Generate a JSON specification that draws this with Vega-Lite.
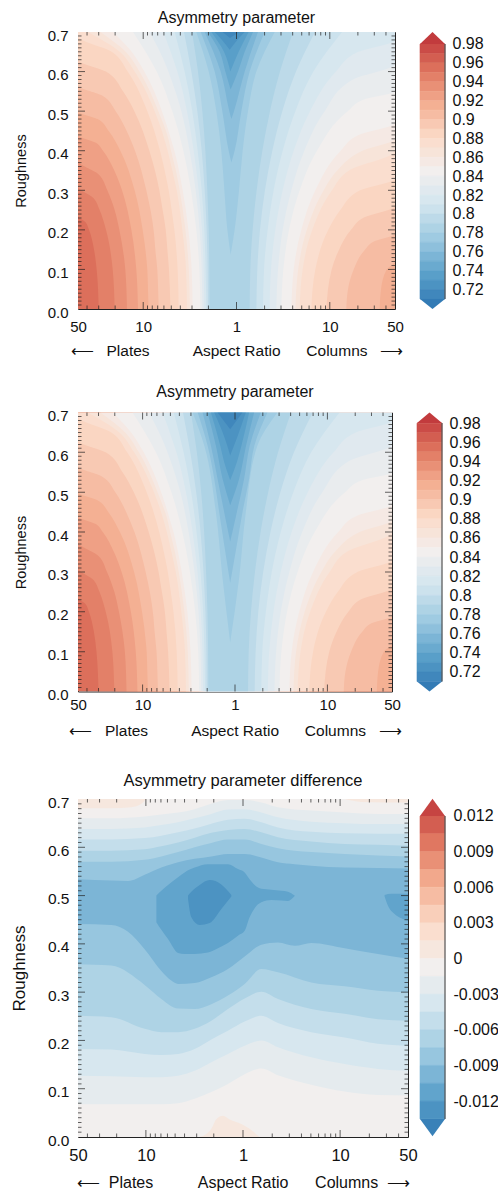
{
  "$schema": "https://vega.github.io/schema/vega-lite/v6.json",
  "padding": {"left": 9, "top": 9, "right": 0, "bottom": 0},
  "background": "white",
  "config": {
    "font": "Liberation Sans",
    "view": {"stroke": "#222", "strokeWidth": 1},
    "axis": {"grid": false, "ticks": false, "domain": false, "labelColor": "#111", "titleColor": "#111", "titleFontWeight": "normal", "labelFlush": false, "labelOverlap": false},
    "title": {"fontWeight": "normal", "color": "#111", "anchor": "middle", "frame": "group"},
    "tick": {"thickness": 1}
  },
  "datasets": {
    "xt": [
      {"t":-1.602,"k":0},{"t":-1.477,"k":0},{"t":-1.301,"k":0},{"t":-1,"k":1},{"t":-0.954,"k":0},{"t":-0.903,"k":0},{"t":-0.845,"k":0},{"t":-0.778,"k":0},{"t":-0.699,"k":0},{"t":-0.602,"k":0},{"t":-0.477,"k":0},{"t":-0.301,"k":0},{"t":0,"k":1},
      {"t":0.301,"k":0},{"t":0.477,"k":0},{"t":0.602,"k":0},{"t":0.699,"k":0},{"t":0.778,"k":0},{"t":0.845,"k":0},{"t":0.903,"k":0},{"t":0.954,"k":0},{"t":1,"k":1},{"t":1.301,"k":0},{"t":1.477,"k":0},{"t":1.602,"k":0}
    ],
    "yt": [
      {"t":0.01,"k":0},{"t":0.02,"k":0},{"t":0.03,"k":0},{"t":0.04,"k":0},{"t":0.05,"k":0},{"t":0.06,"k":0},{"t":0.07,"k":0},{"t":0.08,"k":0},{"t":0.09,"k":0},{"t":0.1,"k":1},
      {"t":0.11,"k":0},{"t":0.12,"k":0},{"t":0.13,"k":0},{"t":0.14,"k":0},{"t":0.15,"k":0},{"t":0.16,"k":0},{"t":0.17,"k":0},{"t":0.18,"k":0},{"t":0.19,"k":0},{"t":0.2,"k":1},
      {"t":0.21,"k":0},{"t":0.22,"k":0},{"t":0.23,"k":0},{"t":0.24,"k":0},{"t":0.25,"k":0},{"t":0.26,"k":0},{"t":0.27,"k":0},{"t":0.28,"k":0},{"t":0.29,"k":0},{"t":0.3,"k":1},
      {"t":0.31,"k":0},{"t":0.32,"k":0},{"t":0.33,"k":0},{"t":0.34,"k":0},{"t":0.35,"k":0},{"t":0.36,"k":0},{"t":0.37,"k":0},{"t":0.38,"k":0},{"t":0.39,"k":0},{"t":0.4,"k":1},
      {"t":0.41,"k":0},{"t":0.42,"k":0},{"t":0.43,"k":0},{"t":0.44,"k":0},{"t":0.45,"k":0},{"t":0.46,"k":0},{"t":0.47,"k":0},{"t":0.48,"k":0},{"t":0.49,"k":0},{"t":0.5,"k":1},
      {"t":0.51,"k":0},{"t":0.52,"k":0},{"t":0.53,"k":0},{"t":0.54,"k":0},{"t":0.55,"k":0},{"t":0.56,"k":0},{"t":0.57,"k":0},{"t":0.58,"k":0},{"t":0.59,"k":0},{"t":0.6,"k":1},
      {"t":0.61,"k":0},{"t":0.62,"k":0},{"t":0.63,"k":0},{"t":0.64,"k":0},{"t":0.65,"k":0},{"t":0.66,"k":0},{"t":0.67,"k":0},{"t":0.68,"k":0},{"t":0.69,"k":0}
    ],
    "base": [
      {"i":"c96","g":0.955,"r":0,"a":-1.699,"b":1.699},{"i":"c96","g":0.955,"r":0.7,"a":-1.699,"b":1.699},
      {"i":"c95","g":0.945,"r":0,"a":-1.477,"b":1.699},{"i":"c95","g":0.945,"r":0.1,"a":-1.499,"b":1.699},{"i":"c95","g":0.945,"r":0.15,"a":-1.527,"b":1.699},{"i":"c95","g":0.945,"r":0.2,"a":-1.581,"b":1.699},{"i":"c95","g":0.945,"r":0.22,"a":-1.62,"b":1.699},{"i":"c95","g":0.945,"r":0.235,"a":-1.699,"b":1.699},{"i":"c95","g":0.945,"r":0.7,"a":-1.699,"b":1.699},
      {"i":"c94","g":0.935,"r":0,"a":-1.306,"b":1.699},{"i":"c94","g":0.935,"r":0.1,"a":-1.327,"b":1.699},{"i":"c94","g":0.935,"r":0.2,"a":-1.399,"b":1.699},{"i":"c94","g":0.935,"r":0.25,"a":-1.467,"b":1.699},{"i":"c94","g":0.935,"r":0.28,"a":-1.531,"b":1.699},{"i":"c94","g":0.935,"r":0.31,"a":-1.699,"b":1.699},{"i":"c94","g":0.935,"r":0.7,"a":-1.699,"b":1.699},
      {"i":"c93","g":0.925,"r":0,"a":-1.174,"b":1.699},{"i":"c93","g":0.925,"r":0.1,"a":-1.192,"b":1.699},{"i":"c93","g":0.925,"r":0.2,"a":-1.256,"b":1.699},{"i":"c93","g":0.925,"r":0.25,"a":-1.306,"b":1.699},{"i":"c93","g":0.925,"r":0.3,"a":-1.385,"b":1.699},{"i":"c93","g":0.925,"r":0.34,"a":-1.477,"b":1.699},{"i":"c93","g":0.925,"r":0.375,"a":-1.699,"b":1.699},{"i":"c93","g":0.925,"r":0.7,"a":-1.699,"b":1.699},
      {"i":"c92","g":0.915,"r":0,"a":-1.056,"b":1.699},{"i":"c92","g":0.915,"r":0.1,"a":-1.074,"b":1.699},{"i":"c92","g":0.915,"r":0.2,"a":-1.127,"b":1.699},{"i":"c92","g":0.915,"r":0.3,"a":-1.227,"b":1.699},{"i":"c92","g":0.915,"r":0.35,"a":-1.31,"b":1.699},{"i":"c92","g":0.915,"r":0.4,"a":-1.431,"b":1.699},{"i":"c92","g":0.915,"r":0.42,"a":-1.506,"b":1.699},{"i":"c92","g":0.915,"r":0.44,"a":-1.699,"b":1.699},{"i":"c92","g":0.915,"r":0.7,"a":-1.699,"b":1.699},
      {"i":"c91","g":0.905,"r":0,"a":-0.942,"b":1.535},{"i":"c91","g":0.905,"r":0.05,"a":-0.949,"b":1.549},{"i":"c91","g":0.905,"r":0.1,"a":-0.956,"b":1.61},{"i":"c91","g":0.905,"r":0.12,"a":-0.963,"b":1.699},{"i":"c91","g":0.905,"r":0.2,"a":-1.006,"b":1.699},{"i":"c91","g":0.905,"r":0.3,"a":-1.092,"b":1.699},{"i":"c91","g":0.905,"r":0.4,"a":-1.245,"b":1.699},{"i":"c91","g":0.905,"r":0.45,"a":-1.37,"b":1.699},{"i":"c91","g":0.905,"r":0.48,"a":-1.488,"b":1.699},{"i":"c91","g":0.905,"r":0.5,"a":-1.699,"b":1.699},{"i":"c91","g":0.905,"r":0.7,"a":-1.699,"b":1.699},
      {"i":"c90","g":0.895,"r":0,"a":-0.834,"b":1.177},{"i":"c90","g":0.895,"r":0.05,"a":-0.84,"b":1.195},{"i":"c90","g":0.895,"r":0.1,"a":-0.849,"b":1.256},{"i":"c90","g":0.895,"r":0.15,"a":-0.87,"b":1.377},{"i":"c90","g":0.895,"r":0.17,"a":-0.877,"b":1.467},{"i":"c90","g":0.895,"r":0.19,"a":-0.884,"b":1.699},{"i":"c90","g":0.895,"r":0.3,"a":-0.967,"b":1.699},{"i":"c90","g":0.895,"r":0.4,"a":-1.088,"b":1.699},{"i":"c90","g":0.895,"r":0.45,"a":-1.177,"b":1.699},{"i":"c90","g":0.895,"r":0.5,"a":-1.295,"b":1.699},{"i":"c90","g":0.895,"r":0.54,"a":-1.445,"b":1.699},{"i":"c90","g":0.895,"r":0.565,"a":-1.699,"b":1.699},{"i":"c90","g":0.895,"r":0.7,"a":-1.699,"b":1.699},
      {"i":"c89","g":0.885,"r":0,"a":-0.709,"b":0.963},{"i":"c89","g":0.885,"r":0.1,"a":-0.724,"b":1.02},{"i":"c89","g":0.885,"r":0.15,"a":-0.741,"b":1.099},{"i":"c89","g":0.885,"r":0.2,"a":-0.759,"b":1.227},{"i":"c89","g":0.885,"r":0.23,"a":-0.777,"b":1.356},{"i":"c89","g":0.885,"r":0.26,"a":-0.799,"b":1.699},{"i":"c89","g":0.885,"r":0.3,"a":-0.827,"b":1.699},{"i":"c89","g":0.885,"r":0.4,"a":-0.934,"b":1.699},{"i":"c89","g":0.885,"r":0.5,"a":-1.095,"b":1.699},{"i":"c89","g":0.885,"r":0.55,"a":-1.217,"b":1.699},{"i":"c89","g":0.885,"r":0.6,"a":-1.399,"b":1.699},{"i":"c89","g":0.885,"r":0.63,"a":-1.699,"b":1.699},{"i":"c89","g":0.885,"r":0.7,"a":-1.699,"b":1.699},
      {"i":"c88","g":0.875,"r":0,"a":-0.62,"b":0.802},{"i":"c88","g":0.875,"r":0.1,"a":-0.631,"b":0.845},{"i":"c88","g":0.875,"r":0.2,"a":-0.666,"b":0.984},{"i":"c88","g":0.875,"r":0.25,"a":-0.695,"b":1.113},{"i":"c88","g":0.875,"r":0.3,"a":-0.727,"b":1.324},{"i":"c88","g":0.875,"r":0.33,"a":-0.752,"b":1.699},{"i":"c88","g":0.875,"r":0.4,"a":-0.82,"b":1.699},{"i":"c88","g":0.875,"r":0.5,"a":-0.956,"b":1.699},{"i":"c88","g":0.875,"r":0.6,"a":-1.167,"b":1.699},{"i":"c88","g":0.875,"r":0.65,"a":-1.338,"b":1.699},{"i":"c88","g":0.875,"r":0.69,"a":-1.699,"b":1.699},{"i":"c88","g":0.875,"r":0.7,"a":-1.699,"b":1.699},
      {"i":"c87","g":0.865,"r":0,"a":-0.531,"b":0.677},{"i":"c87","g":0.865,"r":0.1,"a":-0.541,"b":0.709},{"i":"c87","g":0.865,"r":0.2,"a":-0.581,"b":0.813},{"i":"c87","g":0.865,"r":0.3,"a":-0.641,"b":1.024},{"i":"c87","g":0.865,"r":0.35,"a":-0.688,"b":1.206},{"i":"c87","g":0.865,"r":0.4,"a":-0.738,"b":1.699},{"i":"c87","g":0.865,"r":0.5,"a":-0.877,"b":1.699},{"i":"c87","g":0.865,"r":0.6,"a":-1.092,"b":1.699},{"i":"c87","g":0.865,"r":0.65,"a":-1.252,"b":1.699},{"i":"c87","g":0.865,"r":0.7,"a":-1.592,"b":1.699},
      {"i":"c86","g":0.855,"r":0,"a":-0.5,"b":0.632},{"i":"c86","g":0.855,"r":0.1,"a":-0.511,"b":0.661},{"i":"c86","g":0.855,"r":0.2,"a":-0.548,"b":0.754},{"i":"c86","g":0.855,"r":0.3,"a":-0.609,"b":0.935},{"i":"c86","g":0.855,"r":0.35,"a":-0.65,"b":1.08},{"i":"c86","g":0.855,"r":0.4,"a":-0.702,"b":1.35},{"i":"c86","g":0.855,"r":0.43,"a":-0.73,"b":1.699},{"i":"c86","g":0.855,"r":0.5,"a":-0.838,"b":1.699},{"i":"c86","g":0.855,"r":0.6,"a":-1.04,"b":1.699},{"i":"c86","g":0.855,"r":0.65,"a":-1.188,"b":1.699},{"i":"c86","g":0.855,"r":0.7,"a":-1.458,"b":1.699},
      {"i":"c85","g":0.845,"r":0,"a":-0.47,"b":0.588},{"i":"c85","g":0.845,"r":0.1,"a":-0.481,"b":0.613},{"i":"c85","g":0.845,"r":0.2,"a":-0.516,"b":0.695},{"i":"c85","g":0.845,"r":0.3,"a":-0.577,"b":0.845},{"i":"c85","g":0.845,"r":0.4,"a":-0.666,"b":1.117},{"i":"c85","g":0.845,"r":0.44,"a":-0.716,"b":1.309},{"i":"c85","g":0.845,"r":0.47,"a":-0.756,"b":1.699},{"i":"c85","g":0.845,"r":0.5,"a":-0.799,"b":1.699},{"i":"c85","g":0.845,"r":0.6,"a":-0.988,"b":1.699},{"i":"c85","g":0.845,"r":0.65,"a":-1.124,"b":1.699},{"i":"c85","g":0.845,"r":0.7,"a":-1.324,"b":1.699},
      {"i":"c84","g":0.835,"r":0,"a":-0.388,"b":0.48},{"i":"c84","g":0.835,"r":0.1,"a":-0.398,"b":0.502},{"i":"c84","g":0.835,"r":0.2,"a":-0.431,"b":0.563},{"i":"c84","g":0.835,"r":0.3,"a":-0.488,"b":0.677},{"i":"c84","g":0.835,"r":0.4,"a":-0.57,"b":0.863},{"i":"c84","g":0.835,"r":0.5,"a":-0.688,"b":1.192},{"i":"c84","g":0.835,"r":0.53,"a":-0.734,"b":1.374},{"i":"c84","g":0.835,"r":0.55,"a":-0.763,"b":1.699},{"i":"c84","g":0.835,"r":0.6,"a":-0.856,"b":1.699},{"i":"c84","g":0.835,"r":0.7,"a":-1.109,"b":1.699},
      {"i":"c83","g":0.825,"r":0,"a":-0.366,"b":0.427},{"i":"c83","g":0.825,"r":0.1,"a":-0.373,"b":0.445},{"i":"c83","g":0.825,"r":0.2,"a":-0.395,"b":0.495},{"i":"c83","g":0.825,"r":0.3,"a":-0.438,"b":0.588},{"i":"c83","g":0.825,"r":0.4,"a":-0.502,"b":0.727},{"i":"c83","g":0.825,"r":0.5,"a":-0.591,"b":0.945},{"i":"c83","g":0.825,"r":0.58,"a":-0.699,"b":1.249},{"i":"c83","g":0.825,"r":0.62,"a":-0.763,"b":1.699},{"i":"c83","g":0.825,"r":0.7,"a":-0.931,"b":1.699},
      {"i":"c82","g":0.815,"r":0,"a":-0.345,"b":0.355},{"i":"c82","g":0.815,"r":0.1,"a":-0.352,"b":0.37},{"i":"c82","g":0.815,"r":0.2,"a":-0.37,"b":0.416},{"i":"c82","g":0.815,"r":0.3,"a":-0.406,"b":0.495},{"i":"c82","g":0.815,"r":0.4,"a":-0.459,"b":0.613},{"i":"c82","g":0.815,"r":0.5,"a":-0.531,"b":0.788},{"i":"c82","g":0.815,"r":0.6,"a":-0.634,"b":1.067},{"i":"c82","g":0.815,"r":0.65,"a":-0.706,"b":1.306},{"i":"c82","g":0.815,"r":0.68,"a":-0.752,"b":1.699},{"i":"c82","g":0.815,"r":0.7,"a":-0.788,"b":1.699},
      {"i":"c81","g":0.805,"r":0,"a":-0.323,"b":0.284},{"i":"c81","g":0.805,"r":0.1,"a":-0.331,"b":0.295},{"i":"c81","g":0.805,"r":0.2,"a":-0.345,"b":0.334},{"i":"c81","g":0.805,"r":0.3,"a":-0.373,"b":0.398},{"i":"c81","g":0.805,"r":0.4,"a":-0.416,"b":0.495},{"i":"c81","g":0.805,"r":0.5,"a":-0.474,"b":0.631},{"i":"c81","g":0.805,"r":0.6,"a":-0.556,"b":0.824},{"i":"c81","g":0.805,"r":0.7,"a":-0.663,"b":1.131},
      {"i":"c80","g":0.795,"r":0,"a":-0.306,"b":0.213},{"i":"c80","g":0.795,"r":0.1,"a":-0.309,"b":0.223},{"i":"c80","g":0.795,"r":0.2,"a":-0.32,"b":0.252},{"i":"c80","g":0.795,"r":0.3,"a":-0.341,"b":0.305},{"i":"c80","g":0.795,"r":0.4,"a":-0.373,"b":0.384},{"i":"c80","g":0.795,"r":0.5,"a":-0.42,"b":0.491},{"i":"c80","g":0.795,"r":0.6,"a":-0.484,"b":0.638},{"i":"c80","g":0.795,"r":0.7,"a":-0.563,"b":0.841},
      {"i":"c79","g":0.785,"r":0,"a":-0.288,"b":0.141},{"i":"c79","g":0.785,"r":0.1,"a":-0.291,"b":0.148},{"i":"c79","g":0.785,"r":0.2,"a":-0.298,"b":0.173},{"i":"c79","g":0.785,"r":0.3,"a":-0.313,"b":0.216},{"i":"c79","g":0.785,"r":0.4,"a":-0.334,"b":0.277},{"i":"c79","g":0.785,"r":0.5,"a":-0.366,"b":0.359},{"i":"c79","g":0.785,"r":0.6,"a":-0.413,"b":0.466},{"i":"c79","g":0.785,"r":0.7,"a":-0.477,"b":0.606}
    ],
    "v1": [
      {"i":"v78","g":0.775,"r":0.137,"a":-0.063,"b":-0.063},{"i":"v78","g":0.775,"r":0.2,"a":-0.098,"b":-0.02},{"i":"v78","g":0.775,"r":0.3,"a":-0.13,"b":0.027},{"i":"v78","g":0.775,"r":0.4,"a":-0.163,"b":0.066},{"i":"v78","g":0.775,"r":0.5,"a":-0.216,"b":0.123},{"i":"v78","g":0.775,"r":0.6,"a":-0.298,"b":0.213},{"i":"v78","g":0.775,"r":0.7,"a":-0.431,"b":0.409},
      {"i":"v77","g":0.765,"r":0.37,"a":-0.055,"b":-0.055},{"i":"v77","g":0.765,"r":0.4,"a":-0.084,"b":-0.02},{"i":"v77","g":0.765,"r":0.5,"a":-0.152,"b":0.052},{"i":"v77","g":0.765,"r":0.6,"a":-0.234,"b":0.141},{"i":"v77","g":0.765,"r":0.7,"a":-0.384,"b":0.302},
      {"i":"v76","g":0.755,"r":0.48,"a":-0.055,"b":-0.055},{"i":"v76","g":0.755,"r":0.5,"a":-0.077,"b":-0.027},{"i":"v76","g":0.755,"r":0.6,"a":-0.17,"b":0.088},{"i":"v76","g":0.755,"r":0.7,"a":-0.341,"b":0.23},
      {"i":"v75","g":0.745,"r":0.555,"a":-0.063,"b":-0.063},{"i":"v75","g":0.745,"r":0.6,"a":-0.12,"b":0.016},{"i":"v75","g":0.745,"r":0.65,"a":-0.18,"b":0.088},{"i":"v75","g":0.745,"r":0.7,"a":-0.306,"b":0.177},
      {"i":"v74","g":0.735,"r":0.6,"a":-0.066,"b":-0.066},{"i":"v74","g":0.735,"r":0.65,"a":-0.134,"b":0.023},{"i":"v74","g":0.735,"r":0.7,"a":-0.27,"b":0.13},
      {"i":"v73","g":0.725,"r":0.655,"a":-0.073,"b":-0.073},{"i":"v73","g":0.725,"r":0.68,"a":-0.155,"b":0.009},{"i":"v73","g":0.725,"r":0.7,"a":-0.234,"b":0.088},
      {"i":"v72","g":0.715,"r":0.685,"a":-0.07,"b":-0.07},{"i":"v72","g":0.715,"r":0.7,"a":-0.15,"b":0.03}
    ],
    "v2": [
      {"i":"w78","g":0.775,"r":0.123,"a":-0.052,"b":-0.052},{"i":"w78","g":0.775,"r":0.285,"a":-0.135,"b":0.045},{"i":"w78","g":0.775,"r":0.45,"a":-0.207,"b":0.117},{"i":"w78","g":0.775,"r":0.617,"a":-0.333,"b":0.243},{"i":"w78","g":0.775,"r":0.7,"a":-0.458,"b":0.458},
      {"i":"w77","g":0.765,"r":0.272,"a":-0.052,"b":-0.052},{"i":"w77","g":0.765,"r":0.368,"a":-0.117,"b":0.02},{"i":"w77","g":0.765,"r":0.45,"a":-0.171,"b":0.081},{"i":"w77","g":0.765,"r":0.534,"a":-0.225,"b":0.153},{"i":"w77","g":0.765,"r":0.617,"a":-0.297,"b":0.21},{"i":"w77","g":0.765,"r":0.7,"a":-0.404,"b":0.351},
      {"i":"w76","g":0.755,"r":0.376,"a":-0.052,"b":-0.052},{"i":"w76","g":0.755,"r":0.45,"a":-0.117,"b":0.02},{"i":"w76","g":0.755,"r":0.534,"a":-0.189,"b":0.099},{"i":"w76","g":0.755,"r":0.617,"a":-0.261,"b":0.16},{"i":"w76","g":0.755,"r":0.7,"a":-0.351,"b":0.279},
      {"i":"w75","g":0.745,"r":0.467,"a":-0.052,"b":-0.052},{"i":"w75","g":0.745,"r":0.534,"a":-0.135,"b":0.045},{"i":"w75","g":0.745,"r":0.617,"a":-0.207,"b":0.12},{"i":"w75","g":0.745,"r":0.7,"a":-0.297,"b":0.207},
      {"i":"w74","g":0.735,"r":0.53,"a":-0.052,"b":-0.052},{"i":"w74","g":0.735,"r":0.575,"a":-0.117,"b":0.02},{"i":"w74","g":0.735,"r":0.617,"a":-0.16,"b":0.07},{"i":"w74","g":0.735,"r":0.7,"a":-0.261,"b":0.153},
      {"i":"w73","g":0.725,"r":0.592,"a":-0.052,"b":-0.052},{"i":"w73","g":0.725,"r":0.64,"a":-0.117,"b":0.027},{"i":"w73","g":0.725,"r":0.7,"a":-0.225,"b":0.117},
      {"i":"w72","g":0.715,"r":0.658,"a":-0.052,"b":-0.052},{"i":"w72","g":0.715,"r":0.7,"a":-0.189,"b":0.081}
    ],
    "p3": [
      {"i":"n0","g":-0.00075,"u":-1.699,"lo":0,"hi":0.7},{"i":"n0","g":-0.00075,"u":1.699,"lo":0,"hi":0.7},
      {"i":"n1","g":-0.00225,"u":-1.699,"lo":0.068,"hi":0.66},{"i":"n1","g":-0.00225,"u":-1.356,"lo":0.068,"hi":0.66},{"i":"n1","g":-0.00225,"u":-1.013,"lo":0.068,"hi":0.664},{"i":"n1","g":-0.00225,"u":-0.841,"lo":0.068,"hi":0.668},{"i":"n1","g":-0.00225,"u":-0.669,"lo":0.07,"hi":0.672},{"i":"n1","g":-0.00225,"u":-0.498,"lo":0.079,"hi":0.679},{"i":"n1","g":-0.00225,"u":-0.326,"lo":0.093,"hi":0.69},{"i":"n1","g":-0.00225,"u":-0.155,"lo":0.11,"hi":0.698},{"i":"n1","g":-0.00225,"u":0.017,"lo":0.13,"hi":0.698},{"i":"n1","g":-0.00225,"u":0.189,"lo":0.142,"hi":0.693},{"i":"n1","g":-0.00225,"u":0.36,"lo":0.128,"hi":0.683},{"i":"n1","g":-0.00225,"u":0.703,"lo":0.108,"hi":0.676},{"i":"n1","g":-0.00225,"u":1.047,"lo":0.094,"hi":0.672},{"i":"n1","g":-0.00225,"u":1.39,"lo":0.087,"hi":0.669},{"i":"n1","g":-0.00225,"u":1.699,"lo":0.086,"hi":0.669},
      {"i":"n2","g":-0.00375,"u":-1.699,"lo":0.127,"hi":0.638},{"i":"n2","g":-0.00375,"u":-1.356,"lo":0.126,"hi":0.638},{"i":"n2","g":-0.00375,"u":-1.013,"lo":0.124,"hi":0.641},{"i":"n2","g":-0.00375,"u":-0.841,"lo":0.124,"hi":0.646},{"i":"n2","g":-0.00375,"u":-0.669,"lo":0.127,"hi":0.652},{"i":"n2","g":-0.00375,"u":-0.498,"lo":0.137,"hi":0.66},{"i":"n2","g":-0.00375,"u":-0.326,"lo":0.155,"hi":0.669},{"i":"n2","g":-0.00375,"u":-0.155,"lo":0.172,"hi":0.678},{"i":"n2","g":-0.00375,"u":0.017,"lo":0.189,"hi":0.679},{"i":"n2","g":-0.00375,"u":0.189,"lo":0.2,"hi":0.672},{"i":"n2","g":-0.00375,"u":0.36,"lo":0.186,"hi":0.662},{"i":"n2","g":-0.00375,"u":0.703,"lo":0.165,"hi":0.653},{"i":"n2","g":-0.00375,"u":1.047,"lo":0.151,"hi":0.65},{"i":"n2","g":-0.00375,"u":1.39,"lo":0.141,"hi":0.648},{"i":"n2","g":-0.00375,"u":1.699,"lo":0.137,"hi":0.648},
      {"i":"n3","g":-0.00525,"u":-1.699,"lo":0.182,"hi":0.616},{"i":"n3","g":-0.00525,"u":-1.356,"lo":0.181,"hi":0.616},{"i":"n3","g":-0.00525,"u":-1.013,"lo":0.172,"hi":0.619},{"i":"n3","g":-0.00525,"u":-0.841,"lo":0.17,"hi":0.624},{"i":"n3","g":-0.00525,"u":-0.669,"lo":0.172,"hi":0.631},{"i":"n3","g":-0.00525,"u":-0.498,"lo":0.182,"hi":0.639},{"i":"n3","g":-0.00525,"u":-0.326,"lo":0.202,"hi":0.649},{"i":"n3","g":-0.00525,"u":-0.155,"lo":0.22,"hi":0.657},{"i":"n3","g":-0.00525,"u":0.017,"lo":0.239,"hi":0.659},{"i":"n3","g":-0.00525,"u":0.189,"lo":0.251,"hi":0.652},{"i":"n3","g":-0.00525,"u":0.36,"lo":0.236,"hi":0.641},{"i":"n3","g":-0.00525,"u":0.703,"lo":0.217,"hi":0.632},{"i":"n3","g":-0.00525,"u":1.047,"lo":0.206,"hi":0.629},{"i":"n3","g":-0.00525,"u":1.39,"lo":0.193,"hi":0.628},{"i":"n3","g":-0.00525,"u":1.699,"lo":0.189,"hi":0.628},
      {"i":"n4","g":-0.00675,"u":-1.699,"lo":0.251,"hi":0.593},{"i":"n4","g":-0.00675,"u":-1.356,"lo":0.248,"hi":0.593},{"i":"n4","g":-0.00675,"u":-1.013,"lo":0.224,"hi":0.596},{"i":"n4","g":-0.00675,"u":-0.841,"lo":0.217,"hi":0.602},{"i":"n4","g":-0.00675,"u":-0.669,"lo":0.217,"hi":0.61},{"i":"n4","g":-0.00675,"u":-0.498,"lo":0.224,"hi":0.62},{"i":"n4","g":-0.00675,"u":-0.326,"lo":0.241,"hi":0.63},{"i":"n4","g":-0.00675,"u":-0.155,"lo":0.265,"hi":0.636},{"i":"n4","g":-0.00675,"u":0.017,"lo":0.287,"hi":0.638},{"i":"n4","g":-0.00675,"u":0.189,"lo":0.301,"hi":0.631},{"i":"n4","g":-0.00675,"u":0.36,"lo":0.286,"hi":0.621},{"i":"n4","g":-0.00675,"u":0.703,"lo":0.265,"hi":0.612},{"i":"n4","g":-0.00675,"u":1.047,"lo":0.255,"hi":0.607},{"i":"n4","g":-0.00675,"u":1.39,"lo":0.244,"hi":0.605},{"i":"n4","g":-0.00675,"u":1.699,"lo":0.241,"hi":0.603},
      {"i":"n5","g":-0.00825,"u":-1.699,"lo":0.358,"hi":0.57},{"i":"n5","g":-0.00825,"u":-1.356,"lo":0.355,"hi":0.57},{"i":"n5","g":-0.00825,"u":-1.013,"lo":0.315,"hi":0.574},{"i":"n5","g":-0.00825,"u":-0.841,"lo":0.286,"hi":0.581},{"i":"n5","g":-0.00825,"u":-0.669,"lo":0.266,"hi":0.59},{"i":"n5","g":-0.00825,"u":-0.498,"lo":0.265,"hi":0.6},{"i":"n5","g":-0.00825,"u":-0.326,"lo":0.275,"hi":0.609},{"i":"n5","g":-0.00825,"u":-0.155,"lo":0.293,"hi":0.616},{"i":"n5","g":-0.00825,"u":0.017,"lo":0.317,"hi":0.616},{"i":"n5","g":-0.00825,"u":0.189,"lo":0.348,"hi":0.607},{"i":"n5","g":-0.00825,"u":0.36,"lo":0.341,"hi":0.598},{"i":"n5","g":-0.00825,"u":0.703,"lo":0.32,"hi":0.59},{"i":"n5","g":-0.00825,"u":1.047,"lo":0.312,"hi":0.586},{"i":"n5","g":-0.00825,"u":1.39,"lo":0.303,"hi":0.583},{"i":"n5","g":-0.00825,"u":1.699,"lo":0.3,"hi":0.581},
      {"i":"n6","g":-0.00975,"u":-1.699,"lo":0.441,"hi":0.534},{"i":"n6","g":-0.00975,"u":-1.356,"lo":0.439,"hi":0.531},{"i":"n6","g":-0.00975,"u":-1.184,"lo":0.425,"hi":0.53},{"i":"n6","g":-0.00975,"u":-1.013,"lo":0.389,"hi":0.543},{"i":"n6","g":-0.00975,"u":-0.841,"lo":0.344,"hi":0.558},{"i":"n6","g":-0.00975,"u":-0.738,"lo":0.324,"hi":0.565},{"i":"n6","g":-0.00975,"u":-0.669,"lo":0.317,"hi":0.569},{"i":"n6","g":-0.00975,"u":-0.498,"lo":0.319,"hi":0.576},{"i":"n6","g":-0.00975,"u":-0.326,"lo":0.331,"hi":0.581},{"i":"n6","g":-0.00975,"u":-0.155,"lo":0.348,"hi":0.586},{"i":"n6","g":-0.00975,"u":0.017,"lo":0.374,"hi":0.586},{"i":"n6","g":-0.00975,"u":0.189,"lo":0.398,"hi":0.579},{"i":"n6","g":-0.00975,"u":0.36,"lo":0.403,"hi":0.569},{"i":"n6","g":-0.00975,"u":0.532,"lo":0.396,"hi":0.565},{"i":"n6","g":-0.00975,"u":0.703,"lo":0.402,"hi":0.562},{"i":"n6","g":-0.00975,"u":1.047,"lo":0.391,"hi":0.558},{"i":"n6","g":-0.00975,"u":1.39,"lo":0.379,"hi":0.557},{"i":"n6","g":-0.00975,"u":1.699,"lo":0.369,"hi":0.556},
      {"i":"n7","g":-0.01125,"u":-0.892,"lo":0.445,"hi":0.5},{"i":"n7","g":-0.01125,"u":-0.841,"lo":0.429,"hi":0.51},{"i":"n7","g":-0.01125,"u":-0.772,"lo":0.41,"hi":0.522},{"i":"n7","g":-0.01125,"u":-0.669,"lo":0.381,"hi":0.538},{"i":"n7","g":-0.01125,"u":-0.601,"lo":0.379,"hi":0.548},{"i":"n7","g":-0.01125,"u":-0.498,"lo":0.379,"hi":0.558},{"i":"n7","g":-0.01125,"u":-0.361,"lo":0.382,"hi":0.565},{"i":"n7","g":-0.01125,"u":-0.258,"lo":0.391,"hi":0.565},{"i":"n7","g":-0.01125,"u":-0.155,"lo":0.402,"hi":0.565},{"i":"n7","g":-0.01125,"u":-0.052,"lo":0.417,"hi":0.555},{"i":"n7","g":-0.01125,"u":0.017,"lo":0.427,"hi":0.548},{"i":"n7","g":-0.01125,"u":0.068,"lo":0.455,"hi":0.534},{"i":"n7","g":-0.01125,"u":0.12,"lo":0.474,"hi":0.522},{"i":"n7","g":-0.01125,"u":0.189,"lo":0.486,"hi":0.514},{"i":"n7","g":-0.01125,"u":0.292,"lo":0.491,"hi":0.512},{"i":"n7","g":-0.01125,"u":0.395,"lo":0.49,"hi":0.51},{"i":"n7","g":-0.01125,"u":0.463,"lo":0.489,"hi":0.508},{"i":"n7","g":-0.01125,"u":0.532,"lo":0.499,"hi":0.5},
      {"i":"n8","g":-0.01125,"u":1.458,"lo":0.498,"hi":0.501},{"i":"n8","g":-0.01125,"u":1.493,"lo":0.479,"hi":0.503},{"i":"n8","g":-0.01125,"u":1.561,"lo":0.462,"hi":0.504},{"i":"n8","g":-0.01125,"u":1.63,"lo":0.453,"hi":0.504},{"i":"n8","g":-0.01125,"u":1.699,"lo":0.448,"hi":0.504},
      {"i":"n9","g":-0.01275,"u":-0.566,"lo":0.493,"hi":0.5},{"i":"n9","g":-0.01275,"u":-0.532,"lo":0.455,"hi":0.508},{"i":"n9","g":-0.01275,"u":-0.446,"lo":0.439,"hi":0.522},{"i":"n9","g":-0.01275,"u":-0.343,"lo":0.443,"hi":0.532},{"i":"n9","g":-0.01275,"u":-0.223,"lo":0.472,"hi":0.523},{"i":"n9","g":-0.01275,"u":-0.12,"lo":0.498,"hi":0.501},
      {"i":"q1","g":0.00075,"u":-0.446,"lo":0,"hi":0},{"i":"q1","g":0.00075,"u":-0.378,"lo":0,"hi":0.006},{"i":"q1","g":0.00075,"u":-0.326,"lo":0,"hi":0.017},{"i":"q1","g":0.00075,"u":-0.275,"lo":0,"hi":0.037},{"i":"q1","g":0.00075,"u":-0.206,"lo":0,"hi":0.044},{"i":"q1","g":0.00075,"u":-0.137,"lo":0,"hi":0.036},{"i":"q1","g":0.00075,"u":-0.017,"lo":0,"hi":0.027},{"i":"q1","g":0.00075,"u":0.068,"lo":0,"hi":0.017},{"i":"q1","g":0.00075,"u":0.171,"lo":0,"hi":0},
      {"i":"q2","g":0.00075,"u":-1.699,"lo":0.681,"hi":0.7},{"i":"q2","g":0.00075,"u":-1.356,"lo":0.681,"hi":0.7},{"i":"q2","g":0.00075,"u":-1.15,"lo":0.683,"hi":0.7},{"i":"q2","g":0.00075,"u":-1.047,"lo":0.69,"hi":0.7},{"i":"q2","g":0.00075,"u":-0.995,"lo":0.7,"hi":0.7},
      {"i":"q3","g":0.00075,"u":1.047,"lo":0.7,"hi":0.7},{"i":"q3","g":0.00075,"u":1.218,"lo":0.694,"hi":0.7},{"i":"q3","g":0.00075,"u":1.458,"lo":0.693,"hi":0.7},{"i":"q3","g":0.00075,"u":1.699,"lo":0.693,"hi":0.7}
    ],
    "cb1": [
      {"lo":0.97,"hi":0.98,"g":0.975},{"lo":0.96,"hi":0.97,"g":0.965},{"lo":0.95,"hi":0.96,"g":0.955},{"lo":0.94,"hi":0.95,"g":0.945},{"lo":0.93,"hi":0.94,"g":0.935},{"lo":0.92,"hi":0.93,"g":0.925},{"lo":0.91,"hi":0.92,"g":0.915},{"lo":0.9,"hi":0.91,"g":0.905},{"lo":0.89,"hi":0.9,"g":0.895},
      {"lo":0.88,"hi":0.89,"g":0.885},{"lo":0.87,"hi":0.88,"g":0.875},{"lo":0.86,"hi":0.87,"g":0.865},{"lo":0.85,"hi":0.86,"g":0.855},{"lo":0.84,"hi":0.85,"g":0.845},{"lo":0.83,"hi":0.84,"g":0.835},{"lo":0.82,"hi":0.83,"g":0.825},{"lo":0.81,"hi":0.82,"g":0.815},{"lo":0.8,"hi":0.81,"g":0.805},
      {"lo":0.79,"hi":0.8,"g":0.795},{"lo":0.78,"hi":0.79,"g":0.785},{"lo":0.77,"hi":0.78,"g":0.775},{"lo":0.76,"hi":0.77,"g":0.765},{"lo":0.75,"hi":0.76,"g":0.755},{"lo":0.74,"hi":0.75,"g":0.745},{"lo":0.73,"hi":0.74,"g":0.735},{"lo":0.72,"hi":0.73,"g":0.725},{"lo":0.71,"hi":0.72,"g":0.715}
    ],
    "tri1": [{"d":"up","e":0.98,"g":0.985},{"d":"dn","e":0.71,"g":0.705}],
    "cb3": [
      {"lo":0.0105,"hi":0.012,"g":0.01125},{"lo":0.009,"hi":0.0105,"g":0.00975},{"lo":0.0075,"hi":0.009,"g":0.00825},{"lo":0.006,"hi":0.0075,"g":0.00675},{"lo":0.0045,"hi":0.006,"g":0.00525},{"lo":0.003,"hi":0.0045,"g":0.00375},{"lo":0.0015,"hi":0.003,"g":0.00225},{"lo":0,"hi":0.0015,"g":0.00075},{"lo":-0.0015,"hi":0,"g":-0.00075},
      {"lo":-0.003,"hi":-0.0015,"g":-0.00225},{"lo":-0.0045,"hi":-0.003,"g":-0.00375},{"lo":-0.006,"hi":-0.0045,"g":-0.00525},{"lo":-0.0075,"hi":-0.006,"g":-0.00675},{"lo":-0.009,"hi":-0.0075,"g":-0.00825},{"lo":-0.0105,"hi":-0.009,"g":-0.00975},{"lo":-0.012,"hi":-0.0105,"g":-0.01125},{"lo":-0.0135,"hi":-0.012,"g":-0.01275}
    ],
    "tri3": [{"d":"up","e":0.012,"g":0.013},{"d":"dn","e":-0.0135,"g":-0.014}]
  },
  "resolve": {"scale": {"color": "independent", "stroke": "independent"}},
  "spacing": 32,
  "vconcat": [
    {
      "spacing": 23.5,
      "resolve": {"scale": {"color": "independent", "stroke": "independent"}},
      "vconcat": [
        {
          "spacing": 25,
          "bounds": "flush",
          "hconcat": [
            {
              "width": 317, "height": 277,
              "title": {"text": "Asymmetry parameter", "fontSize": 16, "offset": 2.5},
              "layer": [
                {
                  "data": {"name": "base"},
                  "mark": {"type": "area", "orient": "horizontal", "interpolate": "monotone", "clip": true},
                  "encoding": {
                    "y": {"field": "r", "type": "quantitative", "scale": {"domain": [0, 0.7], "nice": false, "zero": false},
                          "axis": {"values": [0, 0.1, 0.2, 0.3, 0.4, 0.5, 0.6, 0.7], "tickCount": 40, "format": ".1f", "labelOverlap": false, "labelOffset": 3, "labelFontSize": 15, "labelPadding": 10, "title": "Roughness", "titleFontSize": 14.5, "titleX": -50}},
                    "x": {"field": "a", "type": "quantitative", "stack": null, "scale": {"domain": [-1.699, 1.699], "nice": false, "zero": false},
                          "axis": {"values": [-1.699, -1, 0, 1, 1.699], "tickCount": 40, "labelOverlap": false, "labelExpr": "abs(datum.value) > 1.5 ? '50' : datum.value == 0 ? '1' : '10'", "labelFontSize": 15, "labelPadding": 10, "title": "⟵\u00a0\u00a0\u00a0Plates\u00a0\u00a0\u00a0\u00a0\u00a0\u00a0\u00a0\u00a0\u00a0\u00a0Aspect Ratio\u00a0\u00a0\u00a0\u00a0\u00a0\u00a0Columns\u00a0\u00a0\u00a0⟶", "titleFontSize": 15.5, "titleY": 34}},
                    "x2": {"field": "b"},
                    "color": {"field": "g", "type": "quantitative", "legend": null, "scale": {"type": "threshold", "domain": [0.71,0.72,0.73,0.74,0.75,0.76,0.77,0.78,0.79,0.8,0.81,0.82,0.83,0.84,0.85,0.86,0.87,0.88,0.89,0.9,0.91,0.92,0.93,0.94,0.95,0.96,0.97,0.98], "scheme": {"name": "redblue", "extent": [0.92, 0.08]}}},
                    "detail": {"field": "i"}
                  }
                },
                {
                  "data": {"name": "v1"},
                  "mark": {"type": "area", "orient": "horizontal", "interpolate": "monotone", "clip": true},
                  "encoding": {
                    "y": {"field": "r", "type": "quantitative"},
                    "x": {"field": "a", "type": "quantitative", "stack": null},
                    "x2": {"field": "b"},
                    "color": {"field": "g", "type": "quantitative", "legend": null, "scale": {"type": "threshold", "domain": [0.71,0.72,0.73,0.74,0.75,0.76,0.77,0.78,0.79,0.8,0.81,0.82,0.83,0.84,0.85,0.86,0.87,0.88,0.89,0.9,0.91,0.92,0.93,0.94,0.95,0.96,0.97,0.98], "scheme": {"name": "redblue", "extent": [0.92, 0.08]}}},
                    "detail": {"field": "i"}
                  }
                },
                {
                  "data": {"name": "xt"},
                  "mark": {"type": "tick", "orient": "vertical", "clip": true, "color": "#222"},
                  "encoding": {"x": {"field": "t", "type": "quantitative"}, "y": {"datum": 0}, "size": {"field": "k", "type": "quantitative", "scale": {"domain": [0, 1], "range": [7, 14]}, "legend": null}}
                },
                {
                  "data": {"name": "xt"},
                  "mark": {"type": "tick", "orient": "vertical", "clip": true, "color": "#222"},
                  "encoding": {"x": {"field": "t", "type": "quantitative"}, "y": {"datum": 0.7}, "size": {"field": "k", "type": "quantitative", "scale": {"domain": [0, 1], "range": [7, 14]}, "legend": null}}
                },
                {
                  "data": {"name": "yt"},
                  "mark": {"type": "tick", "orient": "horizontal", "clip": true, "color": "#222"},
                  "encoding": {"y": {"field": "t", "type": "quantitative"}, "x": {"datum": -1.699}, "size": {"field": "k", "type": "quantitative", "scale": {"domain": [0, 1], "range": [7, 14]}, "legend": null}}
                },
                {
                  "data": {"name": "yt"},
                  "mark": {"type": "tick", "orient": "horizontal", "clip": true, "color": "#222"},
                  "encoding": {"y": {"field": "t", "type": "quantitative"}, "x": {"datum": 1.699}, "size": {"field": "k", "type": "quantitative", "scale": {"domain": [0, 1], "range": [7, 14]}, "legend": null}}
                }
              ]
            },
            {
              "width": 25, "height": 277,
              "view": {"stroke": null},
              "layer": [
                {
                  "data": {"name": "cb1"},
                  "mark": {"type": "rect", "strokeWidth": 0.6},
                  "encoding": {
                    "x": {"datum": 0, "scale": {"domain": [0, 1], "nice": false, "zero": false}, "axis": null},
                    "x2": {"datum": 1},
                    "y": {"field": "lo", "type": "quantitative", "scale": {"domain": [0.6994, 0.9927], "nice": false, "zero": false},
                          "axis": {"orient": "right", "values": [0.72,0.74,0.76,0.78,0.8,0.82,0.84,0.86,0.88,0.9,0.92,0.94,0.96,0.98], "tickCount": 40, "labelOverlap": false, "format": "~g", "labelFontSize": 16, "labelPadding": 7, "title": null}},
                    "y2": {"field": "hi"},
                    "color": {"field": "g", "type": "quantitative", "legend": null, "scale": {"type": "threshold", "domain": [0.71,0.72,0.73,0.74,0.75,0.76,0.77,0.78,0.79,0.8,0.81,0.82,0.83,0.84,0.85,0.86,0.87,0.88,0.89,0.9,0.91,0.92,0.93,0.94,0.95,0.96,0.97,0.98], "scheme": {"name": "redblue", "extent": [0.92, 0.08]}}},
                    "stroke": {"field": "g", "type": "quantitative", "legend": null, "scale": {"type": "threshold", "domain": [0.71,0.72,0.73,0.74,0.75,0.76,0.77,0.78,0.79,0.8,0.81,0.82,0.83,0.84,0.85,0.86,0.87,0.88,0.89,0.9,0.91,0.92,0.93,0.94,0.95,0.96,0.97,0.98], "scheme": {"name": "redblue", "extent": [0.92, 0.08]}}}
                  }
                },
                {
                  "data": {"name": "tri1"},
                  "transform": [{"filter": "datum.d == 'up'"}],
                  "mark": {"type": "point", "shape": "M-1,0L1,0L0,-0.96Z", "size": 625, "filled": true, "opacity": 1, "strokeWidth": 0},
                  "encoding": {"x": {"datum": 0.5, "axis": null}, "y": {"field": "e", "type": "quantitative"}, "color": {"field": "g", "type": "quantitative", "legend": null, "scale": {"type": "threshold", "domain": [0.71,0.72,0.73,0.74,0.75,0.76,0.77,0.78,0.79,0.8,0.81,0.82,0.83,0.84,0.85,0.86,0.87,0.88,0.89,0.9,0.91,0.92,0.93,0.94,0.95,0.96,0.97,0.98], "scheme": {"name": "redblue", "extent": [0.92, 0.08]}}}}
                },
                {
                  "data": {"name": "tri1"},
                  "transform": [{"filter": "datum.d == 'dn'"}],
                  "mark": {"type": "point", "shape": "M-1,0L1,0L0,0.8Z", "size": 625, "filled": true, "opacity": 1, "strokeWidth": 0},
                  "encoding": {"x": {"datum": 0.5, "axis": null}, "y": {"field": "e", "type": "quantitative"}, "color": {"field": "g", "type": "quantitative", "legend": null, "scale": {"type": "threshold", "domain": [0.71,0.72,0.73,0.74,0.75,0.76,0.77,0.78,0.79,0.8,0.81,0.82,0.83,0.84,0.85,0.86,0.87,0.88,0.89,0.9,0.91,0.92,0.93,0.94,0.95,0.96,0.97,0.98], "scheme": {"name": "redblue", "extent": [0.92, 0.08]}}}}
                },
                {
                  "data": {"values": [{}]},
                  "mark": {"type": "rule", "color": "#555", "strokeWidth": 1.2},
                  "encoding": {"x": {"datum": 1, "axis": null}, "y": {"datum": 0.71}, "y2": {"datum": 0.98}}
                }
              ]
            }
          ]
        },
        {
          "spacing": 25,
          "bounds": "flush",
          "hconcat": [
            {
              "width": 314, "height": 279,
              "title": {"text": "Asymmetry parameter", "fontSize": 16, "offset": 9},
              "layer": [
                {
                  "data": {"name": "base"},
                  "mark": {"type": "area", "orient": "horizontal", "interpolate": "monotone", "clip": true},
                  "encoding": {
                    "y": {"field": "r", "type": "quantitative", "scale": {"domain": [0, 0.7], "nice": false, "zero": false},
                          "axis": {"values": [0, 0.1, 0.2, 0.3, 0.4, 0.5, 0.6, 0.7], "tickCount": 40, "format": ".1f", "labelOverlap": false, "labelOffset": 3, "labelFontSize": 15, "labelPadding": 10, "title": "Roughness", "titleFontSize": 14.5, "titleX": -50}},
                    "x": {"field": "a", "type": "quantitative", "stack": null, "scale": {"domain": [-1.699, 1.699], "nice": false, "zero": false},
                          "axis": {"values": [-1.699, -1, 0, 1, 1.699], "tickCount": 40, "labelOverlap": false, "labelExpr": "abs(datum.value) > 1.5 ? '50' : datum.value == 0 ? '1' : '10'", "labelFontSize": 15, "labelPadding": 6, "title": "⟵\u00a0\u00a0\u00a0Plates\u00a0\u00a0\u00a0\u00a0\u00a0\u00a0\u00a0\u00a0\u00a0\u00a0Aspect Ratio\u00a0\u00a0\u00a0\u00a0\u00a0\u00a0Columns\u00a0\u00a0\u00a0⟶", "titleFontSize": 15.5, "titleY": 32}},
                    "x2": {"field": "b"},
                    "color": {"field": "g", "type": "quantitative", "legend": null, "scale": {"type": "threshold", "domain": [0.71,0.72,0.73,0.74,0.75,0.76,0.77,0.78,0.79,0.8,0.81,0.82,0.83,0.84,0.85,0.86,0.87,0.88,0.89,0.9,0.91,0.92,0.93,0.94,0.95,0.96,0.97,0.98], "scheme": {"name": "redblue", "extent": [0.92, 0.08]}}},
                    "detail": {"field": "i"}
                  }
                },
                {
                  "data": {"name": "v2"},
                  "mark": {"type": "area", "orient": "horizontal", "interpolate": "monotone", "clip": true},
                  "encoding": {
                    "y": {"field": "r", "type": "quantitative"},
                    "x": {"field": "a", "type": "quantitative", "stack": null},
                    "x2": {"field": "b"},
                    "color": {"field": "g", "type": "quantitative", "legend": null, "scale": {"type": "threshold", "domain": [0.71,0.72,0.73,0.74,0.75,0.76,0.77,0.78,0.79,0.8,0.81,0.82,0.83,0.84,0.85,0.86,0.87,0.88,0.89,0.9,0.91,0.92,0.93,0.94,0.95,0.96,0.97,0.98], "scheme": {"name": "redblue", "extent": [0.92, 0.08]}}},
                    "detail": {"field": "i"}
                  }
                },
                {
                  "data": {"name": "xt"},
                  "mark": {"type": "tick", "orient": "vertical", "clip": true, "color": "#222"},
                  "encoding": {"x": {"field": "t", "type": "quantitative"}, "y": {"datum": 0}, "size": {"field": "k", "type": "quantitative", "scale": {"domain": [0, 1], "range": [7, 14]}, "legend": null}}
                },
                {
                  "data": {"name": "xt"},
                  "mark": {"type": "tick", "orient": "vertical", "clip": true, "color": "#222"},
                  "encoding": {"x": {"field": "t", "type": "quantitative"}, "y": {"datum": 0.7}, "size": {"field": "k", "type": "quantitative", "scale": {"domain": [0, 1], "range": [7, 14]}, "legend": null}}
                },
                {
                  "data": {"name": "yt"},
                  "mark": {"type": "tick", "orient": "horizontal", "clip": true, "color": "#222"},
                  "encoding": {"y": {"field": "t", "type": "quantitative"}, "x": {"datum": -1.699}, "size": {"field": "k", "type": "quantitative", "scale": {"domain": [0, 1], "range": [7, 14]}, "legend": null}}
                },
                {
                  "data": {"name": "yt"},
                  "mark": {"type": "tick", "orient": "horizontal", "clip": true, "color": "#222"},
                  "encoding": {"y": {"field": "t", "type": "quantitative"}, "x": {"datum": 1.699}, "size": {"field": "k", "type": "quantitative", "scale": {"domain": [0, 1], "range": [7, 14]}, "legend": null}}
                }
              ]
            },
            {
              "width": 25, "height": 279,
              "view": {"stroke": null},
              "layer": [
                {
                  "data": {"name": "cb1"},
                  "mark": {"type": "rect", "strokeWidth": 0.6},
                  "encoding": {
                    "x": {"datum": 0, "scale": {"domain": [0, 1], "nice": false, "zero": false}, "axis": null},
                    "x2": {"datum": 1},
                    "y": {"field": "lo", "type": "quantitative", "scale": {"domain": [0.6996, 0.9911], "nice": false, "zero": false},
                          "axis": {"orient": "right", "values": [0.72,0.74,0.76,0.78,0.8,0.82,0.84,0.86,0.88,0.9,0.92,0.94,0.96,0.98], "tickCount": 40, "labelOverlap": false, "format": "~g", "labelFontSize": 16, "labelPadding": 7, "title": null}},
                    "y2": {"field": "hi"},
                    "color": {"field": "g", "type": "quantitative", "legend": null, "scale": {"type": "threshold", "domain": [0.71,0.72,0.73,0.74,0.75,0.76,0.77,0.78,0.79,0.8,0.81,0.82,0.83,0.84,0.85,0.86,0.87,0.88,0.89,0.9,0.91,0.92,0.93,0.94,0.95,0.96,0.97,0.98], "scheme": {"name": "redblue", "extent": [0.92, 0.08]}}},
                    "stroke": {"field": "g", "type": "quantitative", "legend": null, "scale": {"type": "threshold", "domain": [0.71,0.72,0.73,0.74,0.75,0.76,0.77,0.78,0.79,0.8,0.81,0.82,0.83,0.84,0.85,0.86,0.87,0.88,0.89,0.9,0.91,0.92,0.93,0.94,0.95,0.96,0.97,0.98], "scheme": {"name": "redblue", "extent": [0.92, 0.08]}}}
                  }
                },
                {
                  "data": {"name": "tri1"},
                  "transform": [{"filter": "datum.d == 'up'"}],
                  "mark": {"type": "point", "shape": "M-1,0L1,0L0,-0.85Z", "size": 625, "filled": true, "opacity": 1, "strokeWidth": 0},
                  "encoding": {"x": {"datum": 0.5, "axis": null}, "y": {"field": "e", "type": "quantitative"}, "color": {"field": "g", "type": "quantitative", "legend": null, "scale": {"type": "threshold", "domain": [0.71,0.72,0.73,0.74,0.75,0.76,0.77,0.78,0.79,0.8,0.81,0.82,0.83,0.84,0.85,0.86,0.87,0.88,0.89,0.9,0.91,0.92,0.93,0.94,0.95,0.96,0.97,0.98], "scheme": {"name": "redblue", "extent": [0.92, 0.08]}}}}
                },
                {
                  "data": {"name": "tri1"},
                  "transform": [{"filter": "datum.d == 'dn'"}],
                  "mark": {"type": "point", "shape": "M-1,0L1,0L0,0.8Z", "size": 625, "filled": true, "opacity": 1, "strokeWidth": 0},
                  "encoding": {"x": {"datum": 0.5, "axis": null}, "y": {"field": "e", "type": "quantitative"}, "color": {"field": "g", "type": "quantitative", "legend": null, "scale": {"type": "threshold", "domain": [0.71,0.72,0.73,0.74,0.75,0.76,0.77,0.78,0.79,0.8,0.81,0.82,0.83,0.84,0.85,0.86,0.87,0.88,0.89,0.9,0.91,0.92,0.93,0.94,0.95,0.96,0.97,0.98], "scheme": {"name": "redblue", "extent": [0.92, 0.08]}}}}
                },
                {
                  "data": {"values": [{}]},
                  "mark": {"type": "rule", "color": "#555", "strokeWidth": 1.2},
                  "encoding": {"x": {"datum": 1, "axis": null}, "y": {"datum": 0.71}, "y2": {"datum": 0.98}}
                }
              ]
            }
          ]
        }
      ]
    },
    {
      "spacing": 12,
      "bounds": "flush",
      "hconcat": [
        {
          "width": 330, "height": 338,
          "title": {"text": "Asymmetry parameter difference", "fontSize": 16.5, "offset": 6},
          "layer": [
            {
              "data": {"name": "p3"},
              "mark": {"type": "area", "orient": "vertical", "interpolate": "monotone", "clip": true},
              "encoding": {
                "x": {"field": "u", "type": "quantitative", "scale": {"domain": [-1.699, 1.699], "nice": false, "zero": false},
                      "axis": {"values": [-1.699, -1, 0, 1, 1.699], "tickCount": 40, "labelOverlap": false, "labelExpr": "abs(datum.value) > 1.5 ? '50' : datum.value == 0 ? '1' : '10'", "labelFontSize": 16.5, "labelPadding": 10, "title": "⟵\u00a0\u00a0Plates\u00a0\u00a0\u00a0\u00a0\u00a0\u00a0\u00a0\u00a0\u00a0\u00a0Aspect Ratio\u00a0\u00a0\u00a0\u00a0\u00a0\u00a0Columns\u00a0\u00a0⟶", "titleFontSize": 16, "titleY": 37}},
                "y": {"field": "lo", "type": "quantitative", "stack": null, "scale": {"domain": [0, 0.7], "nice": false, "zero": false},
                      "axis": {"values": [0, 0.1, 0.2, 0.3, 0.4, 0.5, 0.6, 0.7], "tickCount": 40, "format": ".1f", "labelOverlap": false, "labelOffset": 3, "labelFontSize": 15.5, "labelPadding": 9, "title": "Roughness", "titleFontSize": 17, "titleX": -50}},
                "y2": {"field": "hi"},
                "color": {"field": "g", "type": "quantitative", "legend": null, "scale": {"type": "threshold", "domain": [-0.0135,-0.012,-0.0105,-0.009,-0.0075,-0.006,-0.0045,-0.003,-0.0015,0,0.0015,0.003,0.0045,0.006,0.0075,0.009,0.0105,0.012], "scheme": {"name": "redblue", "extent": [0.92, 0.08]}}},
                "detail": {"field": "i"}
              }
            },
            {
              "data": {"name": "xt"},
              "mark": {"type": "tick", "orient": "vertical", "clip": true, "color": "#222"},
              "encoding": {"x": {"field": "t", "type": "quantitative"}, "y": {"datum": 0}, "size": {"field": "k", "type": "quantitative", "scale": {"domain": [0, 1], "range": [7, 14]}, "legend": null}}
            },
            {
              "data": {"name": "xt"},
              "mark": {"type": "tick", "orient": "vertical", "clip": true, "color": "#222"},
              "encoding": {"x": {"field": "t", "type": "quantitative"}, "y": {"datum": 0.7}, "size": {"field": "k", "type": "quantitative", "scale": {"domain": [0, 1], "range": [7, 14]}, "legend": null}}
            },
            {
              "data": {"name": "yt"},
              "mark": {"type": "tick", "orient": "horizontal", "clip": true, "color": "#222"},
              "encoding": {"y": {"field": "t", "type": "quantitative"}, "x": {"datum": -1.699}, "size": {"field": "k", "type": "quantitative", "scale": {"domain": [0, 1], "range": [7, 14]}, "legend": null}}
            },
            {
              "data": {"name": "yt"},
              "mark": {"type": "tick", "orient": "horizontal", "clip": true, "color": "#222"},
              "encoding": {"y": {"field": "t", "type": "quantitative"}, "x": {"datum": 1.699}, "size": {"field": "k", "type": "quantitative", "scale": {"domain": [0, 1], "range": [7, 14]}, "legend": null}}
            }
          ]
        },
        {
          "width": 25, "height": 338,
          "view": {"stroke": null},
          "layer": [
            {
              "data": {"name": "cb3"},
              "mark": {"type": "rect", "strokeWidth": 0.6},
              "encoding": {
                "x": {"datum": 0, "scale": {"domain": [0, 1], "nice": false, "zero": false}, "axis": null},
                "x2": {"datum": 1},
                "y": {"field": "lo", "type": "quantitative", "scale": {"domain": [-0.01502, 0.01343], "nice": false, "zero": false},
                      "axis": {"orient": "right", "values": [-0.012,-0.009,-0.006,-0.003,0,0.003,0.006,0.009,0.012], "tickCount": 40, "labelOverlap": false, "labelExpr": "datum.value == 0 ? '0' : (datum.value < 0 ? '-' : '') + format(abs(datum.value), '.3f')", "labelFontSize": 16, "labelPadding": 8, "title": null}},
                "y2": {"field": "hi"},
                "color": {"field": "g", "type": "quantitative", "legend": null, "scale": {"type": "threshold", "domain": [-0.0135,-0.012,-0.0105,-0.009,-0.0075,-0.006,-0.0045,-0.003,-0.0015,0,0.0015,0.003,0.0045,0.006,0.0075,0.009,0.0105,0.012], "scheme": {"name": "redblue", "extent": [0.92, 0.08]}}},
                "stroke": {"field": "g", "type": "quantitative", "legend": null, "scale": {"type": "threshold", "domain": [-0.0135,-0.012,-0.0105,-0.009,-0.0075,-0.006,-0.0045,-0.003,-0.0015,0,0.0015,0.003,0.0045,0.006,0.0075,0.009,0.0105,0.012], "scheme": {"name": "redblue", "extent": [0.92, 0.08]}}}
              }
            },
            {
              "data": {"name": "tri3"},
              "transform": [{"filter": "datum.d == 'up'"}],
              "mark": {"type": "point", "shape": "M-1,0L1,0L0,-1.38Z", "size": 625, "filled": true, "opacity": 1, "strokeWidth": 0},
              "encoding": {"x": {"datum": 0.5, "axis": null}, "y": {"field": "e", "type": "quantitative"}, "color": {"field": "g", "type": "quantitative", "legend": null, "scale": {"type": "threshold", "domain": [-0.0135,-0.012,-0.0105,-0.009,-0.0075,-0.006,-0.0045,-0.003,-0.0015,0,0.0015,0.003,0.0045,0.006,0.0075,0.009,0.0105,0.012], "scheme": {"name": "redblue", "extent": [0.92, 0.08]}}}}
            },
            {
              "data": {"name": "tri3"},
              "transform": [{"filter": "datum.d == 'dn'"}],
              "mark": {"type": "point", "shape": "M-1,0L1,0L0,1.38Z", "size": 625, "filled": true, "opacity": 1, "strokeWidth": 0},
              "encoding": {"x": {"datum": 0.5, "axis": null}, "y": {"field": "e", "type": "quantitative"}, "color": {"field": "g", "type": "quantitative", "legend": null, "scale": {"type": "threshold", "domain": [-0.0135,-0.012,-0.0105,-0.009,-0.0075,-0.006,-0.0045,-0.003,-0.0015,0,0.0015,0.003,0.0045,0.006,0.0075,0.009,0.0105,0.012], "scheme": {"name": "redblue", "extent": [0.92, 0.08]}}}}
            },
            {
              "data": {"values": [{}]},
              "mark": {"type": "rule", "color": "#555", "strokeWidth": 1.2},
              "encoding": {"x": {"datum": 1, "axis": null}, "y": {"datum": -0.0135}, "y2": {"datum": 0.012}}
            }
          ]
        }
      ]
    }
  ]
}
